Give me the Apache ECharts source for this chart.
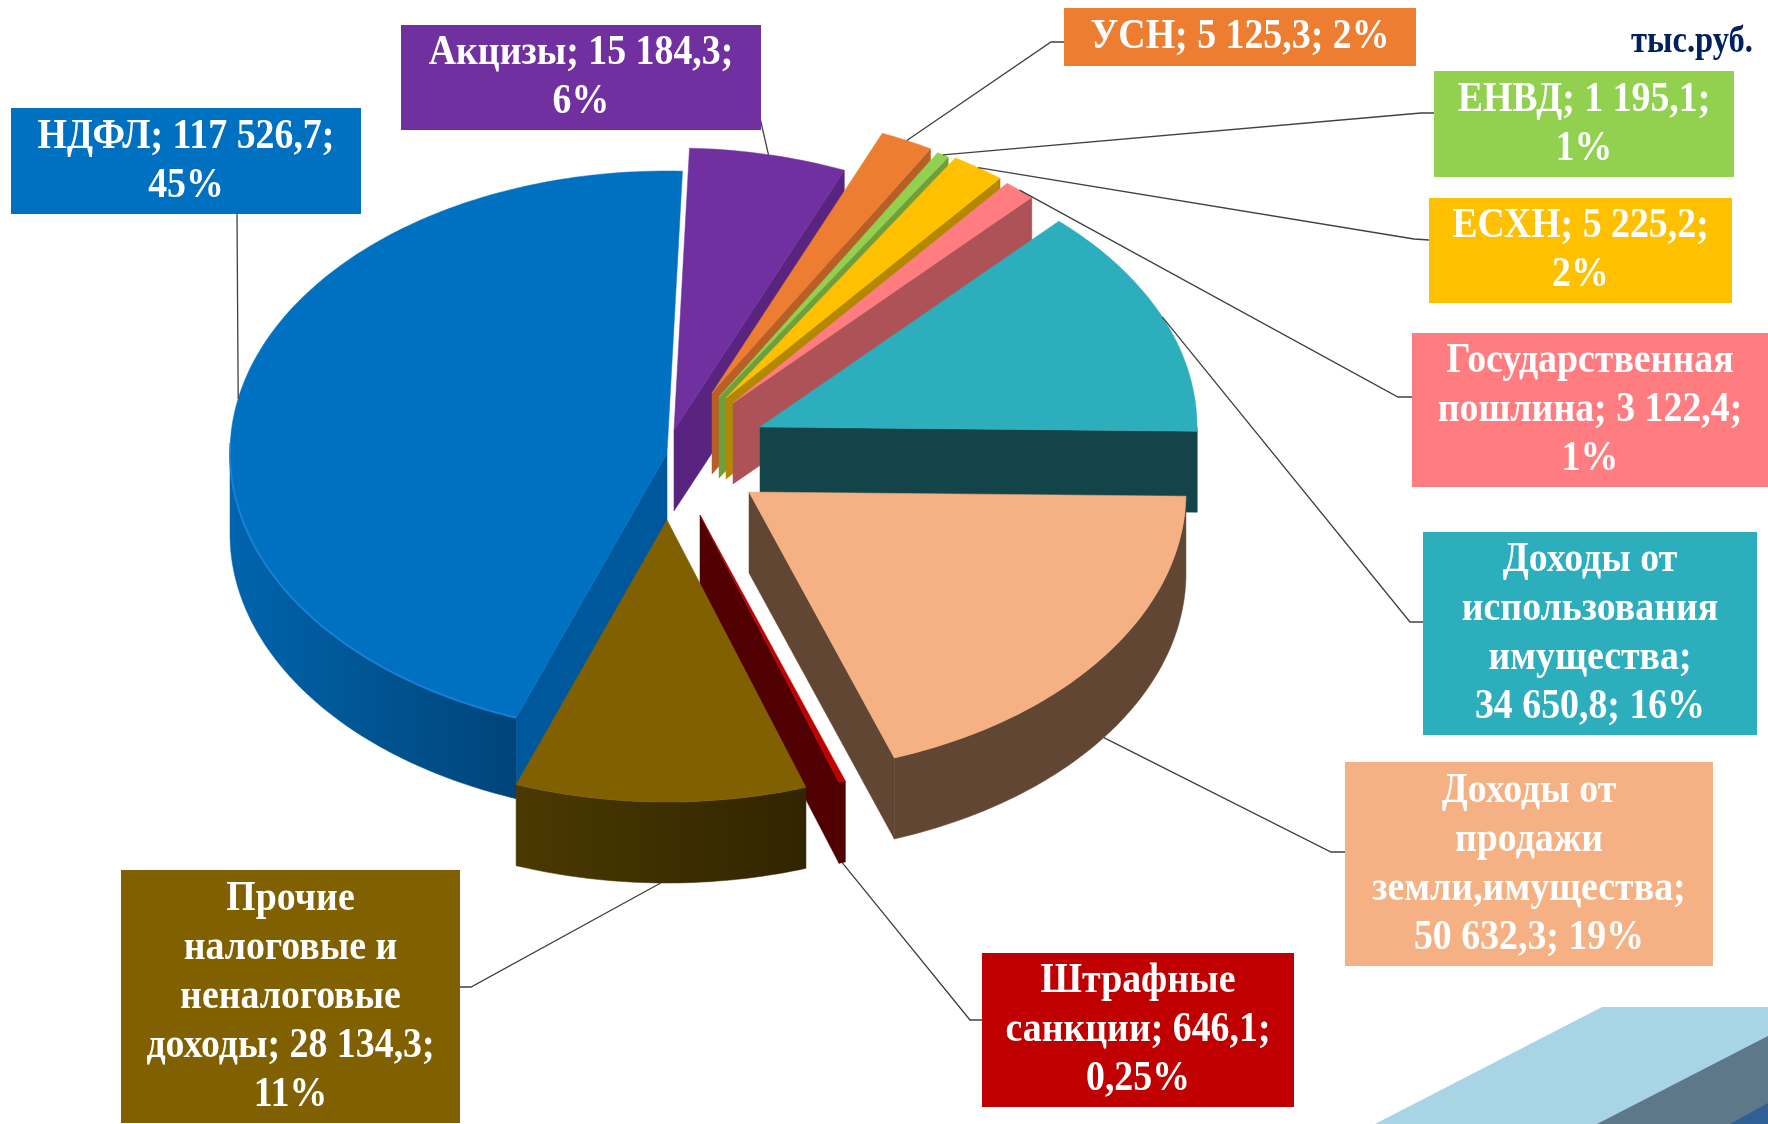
<!DOCTYPE html>
<html>
<head>
<meta charset="utf-8">
<title>Доходы</title>
<style>html,body{margin:0;padding:0;background:#fff}#chart{width:1768px;height:1124px}</style>
<script src="https://cdn.jsdelivr.net/npm/echarts@6/dist/echarts.min.js"></script>
</head>
<body>
<div id="chart"></div>
<script>
// --- data ---
const categories = ['НДФЛ','Акцизы','УСН','ЕНВД','ЕСХН','Государственная пошлина','Доходы от использования имущества','Доходы от продажи земли,имущества','Штрафные санкции','Прочие налоговые и неналоговые доходы'];
const values = [117526.7,15184.3,5125.3,1195.1,5225.2,3122.4,34650.8,50632.3,646.1,28134.3];
const labelTexts = [
  'НДФЛ; 117 526,7;\n45%',
  'Акцизы; 15 184,3;\n6%',
  'УСН; 5 125,3; 2%',
  'ЕНВД; 1 195,1;\n1%',
  'ЕСХН; 5 225,2;\n2%',
  'Государственная\nпошлина; 3 122,4;\n1%',
  'Доходы от\nиспользования\nимущества;\n34 650,8; 16%',
  'Доходы от\nпродажи\nземли,имущества;\n50 632,3; 19%',
  'Штрафные\nсанкции; 646,1;\n0,25%',
  'Прочие\nналоговые и\nненалоговые\nдоходы; 28 134,3;\n11%'
];
const unitLabel = 'тыс.руб.';

// --- style ---
const topColors  = ['#0070C0','#7030A0','#ED7D31','#92D050','#FFC000','#FF7C80','#2DAEBC','#F5B184','#C00000','#806000'];
const sideColors = ['#00589C','#58247F','#B75F26','#6F9E3D','#B38700','#AD5357','#13444A','#614634','#500000','#3F2F00'];

// --- layout: pie projection ---
const startAngle = 200.2, radiusX = 437, radiusY = 282, depth = 81;
// exploded centre of every slice [x, y]
const sliceCenters = [[667,453],[674,430],[712,393],[719,397],[726,398],[733,403],[760,427],[749,492],[700,515],[667,520]];
// label box [x0, y0, x1, y1] and leader [side anchor x, y, elbow x, y]
const labelBoxes = [[11,108,361,214],[401,25,761,130],[1064,8,1416,66],[1434,71,1734,177],[1429,198,1732,303],[1412,333,1768,487],[1423,532,1757,735],[1345,762,1713,966],[982,953,1294,1107],[121,870,460,1123]];
const labelElbows = [[237,214,237,214],[760,118,760,118],[1064,42,1051,42],[1434,113,1421,113],[1429,240,1414,239],[1412,397,1398,397],[1423,622,1410,622],[1345,852,1331,852],[982,1020,970,1020],[460,987,471,987]];

const total = values.reduce((a,b)=>a+b,0);
const rad = d => d*Math.PI/180;
function sweep(i){
  let a = startAngle;
  for(let k=0;k<i;k++) a += values[k]/total*360;
  return [a, a+values[i]/total*360];
}
function rim(c,t,dy){ return [c[0]+radiusX*Math.sin(rad(t)), c[1]-radiusY*Math.cos(rad(t))+(dy||0)]; }
function arc(c,a,b,dy){
  const n=Math.max(2,Math.ceil(Math.abs(b-a))), p=[];
  for(let i=0;i<=n;i++) p.push(rim(c,a+(b-a)*i/n,dy));
  return p;
}
function poly(points,fill){ return {type:'polygon',shape:{points},style:{fill,stroke:fill,lineWidth:0.5},silent:true}; }

function renderSlice(params,api){
  const i=params.dataIndex, c=sliceCenters[i], [a,b]=sweep(i), kids=[];
  const top=topColors[i], side=sideColors[i];
  let wallFill=side;
  if(i===0) wallFill=new echarts.graphic.LinearGradient(228,0,516,0,[{offset:0,color:'#0064AE'},{offset:0.45,color:'#005694'},{offset:1,color:'#00447A'}],true);
  if(i===9) wallFill=new echarts.graphic.LinearGradient(516,0,807,0,[{offset:0,color:'#4A3900'},{offset:1,color:'#312500'}],true);
  // radial cut faces
  if(Math.sin(rad(b))>0.05){
    const e=rim(c,b);
    kids.push(poly([c,e,[e[0],e[1]+depth],[c[0],c[1]+depth]],side));
  }
  if(Math.sin(rad(a))<-0.05){
    const e=rim(c,a);
    kids.push(poly([c,e,[e[0],e[1]+depth],[c[0],c[1]+depth]],side));
  }
  // outer wall, the near half only
  [[90,270],[450,630]].forEach(([lo,hi])=>{
    const s=Math.max(a,lo), t=Math.min(b,hi);
    if(t>s){
      kids.push(poly(arc(c,s,t,0).concat(arc(c,t,s,depth)),wallFill));
    }
  });
  // top face
  kids.push(poly([c].concat(arc(c,a,b)),top));
  if(i===0){
    kids.push({type:'polyline',shape:{points:arc(c,a,272)},style:{fill:null,stroke:'#1C86DA',lineWidth:2,opacity:0.8},silent:true});
  }
  return {type:'group',children:kids};
}

function renderLabel(params,api){
  const i=params.dataIndex, box=labelBoxes[i], el=labelElbows[i], c=sliceCenters[i], [a,b]=sweep(i);
  const mid=(a+b)/2, end=rim(c,mid,Math.cos(rad(mid))<0?depth:0);
  return {type:'group',children:[
    {type:'polyline',shape:{points:[[el[0],el[1]],[el[2],el[3]],end]},style:{fill:null,stroke:'#404040',lineWidth:1.3},silent:true},
    {type:'rect',shape:{x:box[0],y:box[1],width:box[2]-box[0],height:box[3]-box[1]},style:{fill:topColors[i]},silent:true},
    {type:'text',x:(box[0]+box[2])/2,y:(box[1]+box[3])/2,scaleX:0.88,silent:true,
     style:{text:labelTexts[i],fill:'#fff',font:'bold 43px "Liberation Serif"',lineHeight:49,align:'center',verticalAlign:'middle'}}
  ]};
}

const chart=echarts.init(document.getElementById('chart'),null,{renderer:'canvas'});
chart.setOption({
  animation:false,
  backgroundColor:'#fff',
  graphic:{elements:[
    {type:'polygon',z:0,silent:true,shape:{points:[[1602,1007],[1768,1007],[1768,1124],[1375,1124]]},style:{fill:'#A7D5E5'}},
    {type:'polygon',z:0,silent:true,shape:{points:[[1768,1036],[1768,1124],[1597,1124]]},style:{fill:'#5D7889'}},
    {type:'polygon',z:0,silent:true,shape:{points:[[1768,1103],[1768,1124],[1730,1124]]},style:{fill:'#2E6096'}},
    {type:'text',z:5,silent:true,x:1692,y:42,scaleX:0.88,style:{text:unitLabel,fill:'#002060',font:'bold 37px "Liberation Serif"',align:'center',verticalAlign:'middle'}}
  ]},
  series:[
    {type:'custom',name:'Доходы',coordinateSystem:'none',silent:true,z:2,renderItem:renderSlice,
     data:values.map((v,i)=>({name:categories[i],value:[v]}))},
    {type:'custom',name:'Подписи',coordinateSystem:'none',silent:true,z:3,renderItem:renderLabel,
     data:values.map((v,i)=>({name:categories[i],value:[v]}))}
  ]
});
</script>
</body>
</html>
